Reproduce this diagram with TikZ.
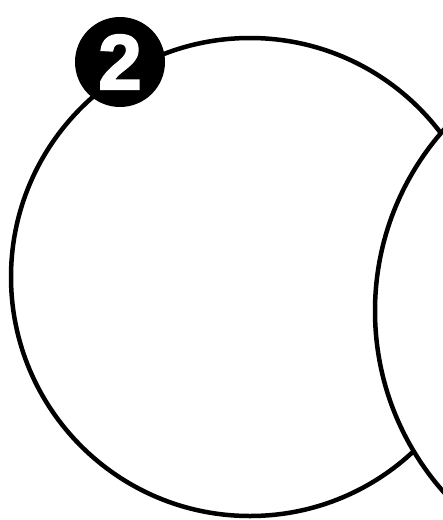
\documentclass[tikz,border=0pt]{standalone}
\usepackage{fontspec}
\setmainfont{Liberation Sans}
\newfontfamily\badgefont[FakeBold=2.5]{Liberation Sans Bold}
\begin{document}
\begin{tikzpicture}
 [x=1pt, y=-1pt,
  ring node/.style={circle, draw, line width=4.5pt, fill=white, inner sep=0pt},
  badge node/.style={circle, fill=black, text=white, inner sep=0pt, minimum size=90pt, font=\fontsize{78}{78}\badgefont}]
\useasboundingbox (0,0) rectangle (443,520);
\clip (0,0) rectangle (443,520);

\node[ring node, minimum size=478pt] (big) at (250,277) {};
\node[ring node, minimum size=546pt] (side) at (648,311) {};

\node[badge node] (num) at (120,62) {2};
\end{tikzpicture}
\end{document}
